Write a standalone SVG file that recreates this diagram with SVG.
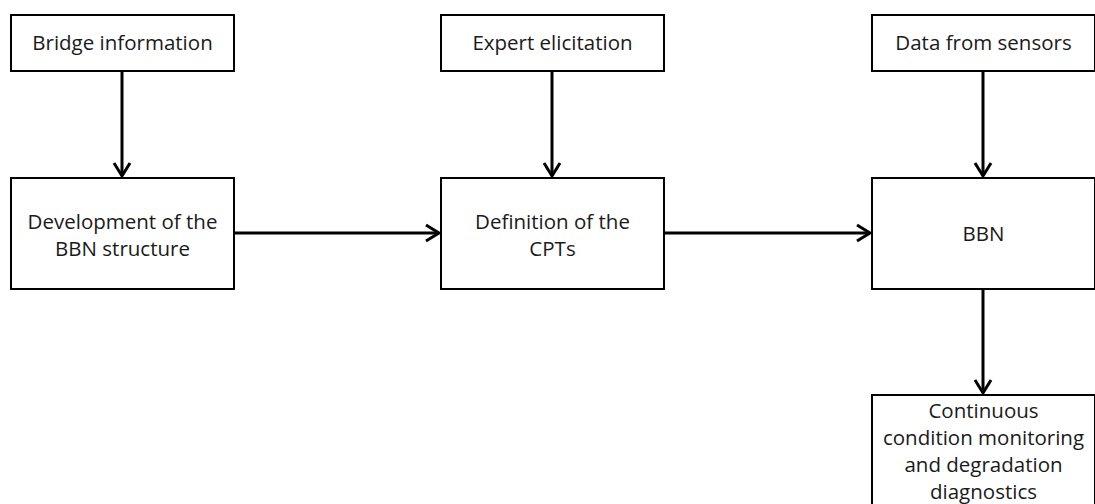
<svg xmlns="http://www.w3.org/2000/svg" width="1095" height="504" viewBox="0 0 1095 504">
  <style>
    .box { fill: #ffffff; stroke: #000000; stroke-width: 2; }
    .lbl { font-family: "Open Sans", "Noto Sans", sans-serif; font-size: 20.5px; fill: #1a1a1a; text-anchor: middle; }
    .edge { stroke: #000000; stroke-width: 3; fill: none; }
    .head { stroke: #000000; stroke-width: 3; fill: none; stroke-linejoin: miter; }
  </style>
  <rect width="1095" height="504" fill="#ffffff"/>

  <g id="connectors">
    <!-- Bridge information -> Development -->
    <line class="edge" x1="122" y1="71" x2="122" y2="176"/>
    <polyline class="head" points="114,163 122,176 130,163"/>
    <!-- Expert elicitation -> Definition -->
    <line class="edge" x1="552" y1="71" x2="552" y2="176"/>
    <polyline class="head" points="544,163 552,176 560,163"/>
    <!-- Data from sensors -> BBN -->
    <line class="edge" x1="983" y1="71" x2="983" y2="176"/>
    <polyline class="head" points="975,163 983,176 991,163"/>
    <!-- Development -> Definition -->
    <line class="edge" x1="234" y1="233" x2="439" y2="233"/>
    <polyline class="head" points="426,225 439,233 426,241"/>
    <!-- Definition -> BBN -->
    <line class="edge" x1="664" y1="233" x2="870" y2="233"/>
    <polyline class="head" points="857,225 870,233 857,241"/>
    <!-- BBN -> monitoring -->
    <line class="edge" x1="983" y1="289" x2="983" y2="393"/>
    <polyline class="head" points="975,380 983,393 991,380"/>
  </g>

  <g id="bridge-information">
    <rect class="box" x="11" y="15" width="223" height="56"/>
    <text class="lbl" x="122.5" y="50">Bridge information</text>
  </g>
  <g id="expert-elicitation">
    <rect class="box" x="441" y="15" width="223" height="56"/>
    <text class="lbl" x="552.5" y="50">Expert elicitation</text>
  </g>
  <g id="data-from-sensors">
    <rect class="box" x="872" y="15" width="223" height="56"/>
    <text class="lbl" x="983.5" y="50">Data from sensors</text>
  </g>
  <g id="bbn-structure">
    <rect class="box" x="11" y="178" width="223" height="111"/>
    <text class="lbl" x="122.5" y="229">Development of the</text>
    <text class="lbl" x="122.5" y="256">BBN structure</text>
  </g>
  <g id="cpts">
    <rect class="box" x="441" y="178" width="223" height="111"/>
    <text class="lbl" x="552.5" y="229">Definition of the</text>
    <text class="lbl" x="552.5" y="256">CPTs</text>
  </g>
  <g id="bbn">
    <rect class="box" x="872" y="178" width="223" height="111"/>
    <text class="lbl" x="983.5" y="241">BBN</text>
  </g>
  <g id="monitoring">
    <rect class="box" x="872" y="395" width="223" height="115"/>
    <text class="lbl" x="983.5" y="418">Continuous</text>
    <text class="lbl" x="983.5" y="445">condition monitoring</text>
    <text class="lbl" x="983.5" y="472">and degradation</text>
    <text class="lbl" x="983.5" y="499">diagnostics</text>
  </g>
</svg>
